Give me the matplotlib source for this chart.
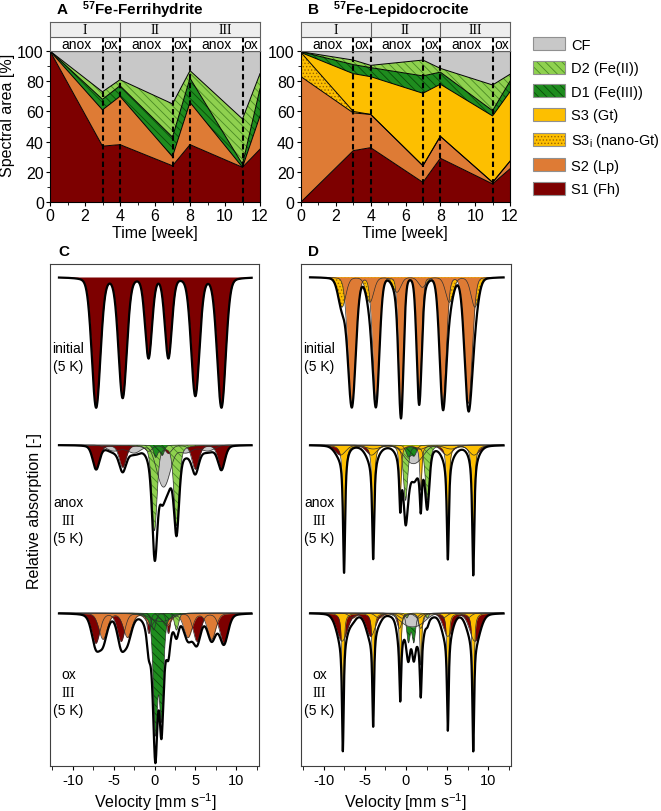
import numpy as np
import matplotlib
matplotlib.use("Agg")
import matplotlib.pyplot as plt
from matplotlib.patches import Patch
from matplotlib.legend_handler import HandlerTuple
from matplotlib.ticker import MultipleLocator

plt.rcParams['font.family'] = ['Liberation Sans', 'DejaVu Sans']
plt.rcParams['mathtext.fontset'] = 'custom'
plt.rcParams['mathtext.rm'] = 'Liberation Sans'
plt.rcParams['mathtext.bf'] = 'Liberation Sans:bold'
plt.rcParams['axes.unicode_minus'] = False
plt.rcParams['hatch.linewidth'] = 0.6

# ---- A / B: spectral areas [%] vs time
weeks = [0, 3, 4, 7, 8, 11, 12]
fh_S1 = [100, 37, 38, 24, 38, 23, 35]
fh_S2 = [0, 24, 32, 6, 28, 0, 22]
fh_D1 = [0, 7, 7, 13, 16, 2, 18]
fh_D2 = [0, 5, 4, 22, 5, 30, 10]
fh_CF = [0, 27, 19, 35, 13, 45, 15]

lp_S1 = [0, 34, 36, 13, 29, 12, 22]
lp_S2 = [83, 25, 22, 11, 14.5, 1, 5]
lp_S3i = [16, 1, 0, 0, 0, 0, 0]
lp_S3 = [0, 25, 25, 48, 34.5, 44, 46]
lp_D1 = [0.5, 6, 6, 11.5, 8, 3.5, 7]
lp_D2 = [0, 3, 1.5, 10.5, 2.5, 17, 4.6]
lp_CF = [0.5, 6, 9.5, 6, 11.5, 22.5, 15.4]

phase_edges = [0, 4, 8, 12]
phase_names = ['I', 'II', 'III']
regimes = [('anox', 0, 3), ('ox', 3, 4), ('anox', 4, 7), ('ox', 7, 8), ('anox', 8, 11), ('ox', 11, 12)]
switch_weeks = [3, 4, 7, 8, 11]

# ---- C / D: Mossbauer fit components (line positions mm/s, depths, FWHM, lorentz fraction)
fh0_S1 = ([-7.15, -3.9, -0.73, 1.7, 5.0, 8.2], [1.30, 1.20, 0.80, 0.80, 1.18, 1.30], [1.25, 1.2, 1.0, 1.0, 1.2, 1.25], 0.15)

fh3a_CF = ([-5.0, -2.5, 0.7, 1.5, 3.8, 6.5], [0.06, 0.08, 0.25, 0.25, 0.08, 0.06], [2.0, 2.0, 1.6, 1.6, 2.0, 2.0], 0.0)
fh3a_S1 = ([-7.15, -3.9, -0.73, 1.7, 5.0, 8.2], [0.24, 0.22, 0.06, 0.08, 0.24, 0.24], 1.0, 0.3)
fh3a_D2 = ([0.0, 2.7], [0.85, 0.80], 0.75, 0.4)
fh3a_D1 = ([0.15, 0.95], [0.12, 0.10], 0.6, 0.3)

fh3o_CF = ([0.2, 1.4], [0.05, 0.05], 2.5, 0.0)
fh3o_S1 = ([-7.2, -4.1, -0.7, 1.7, 5.2, 8.5], [0.30, 0.28, 0.20, 0.20, 0.28, 0.30], [1.2, 1.1, 0.5, 0.5, 1.1, 1.2], 0.3)
fh3o_S2 = ([-6.3, -3.3, -0.5, 1.5, 4.1, 7.0], [0.26, 0.24, 0.12, 0.12, 0.24, 0.26], 1.2, 0.3)
fh3o_D2 = ([-0.1, 2.7], [0.17, 0.17], 0.6, 0.3)
fh3o_D1 = ([0.12, 0.85], [1.15, 1.0], 0.6, 0.5)

lp0_S3i = ([-7.8, -4.4, -1.1, 2.0, 5.3, 8.4], [0.30, 0.25, 0.15, 0.10, 0.25, 0.30], 1.1, 0.2)
lp0_S2 = ([-6.6, -3.65, -0.6, 1.6, 4.5, 7.6], [1.28, 1.22, 1.32, 1.20, 1.26, 1.26], [1.1, 0.95, 0.7, 0.7, 0.95, 1.1], 0.08)

lp3a_CF = ([-4.0, 0.3, 1.5, 5.5], [0.04, 0.12, 0.12, 0.04], 2.0, 0.0)
lp3a_S1 = ([-8.0, -4.2, -0.6, 1.7, 5.0, 8.3], [0.10, 0.10, 0.04, 0.04, 0.10, 0.10], 1.5, 0.2)
lp3a_D2 = ([-0.05, 2.6], [0.55, 0.55], 0.6, 0.5)
lp3a_D1 = ([0.3, 1.0], [0.11, 0.10], 0.7, 0.3)
lp3a_S3 = ([-7.55, -4.0, -0.7, 1.8, 5.1, 8.2], [1.20, 1.00, 0.50, 0.45, 1.00, 1.20], 0.3, 0.85)

lp3o_S2 = ([-6.5, -3.3, -0.5, 1.5, 4.5, 7.5], [0.05, 0.05, 0.05, 0.05, 0.05, 0.05], 1.0, 0.3)
lp3o_S1 = ([-7.8, -4.3, -0.8, 1.8, 5.1, 8.4], [0.28, 0.23, 0.15, 0.15, 0.23, 0.28], [1.5, 1.3, 0.7, 0.7, 1.3, 1.5], 0.2)
lp3o_D1 = ([0.3, 0.95], [0.28, 0.28], 0.5, 0.5)
lp3o_CF = ([0.0, 1.6], [0.10, 0.10], 2.2, 0.0)
lp3o_D2 = ([0.1, 2.6], [0.05, 0.05], 0.4, 0.5)
lp3o_S3 = ([-7.7, -4.0, -0.7, 1.8, 5.1, 8.2], [1.10, 0.92, 0.60, 0.52, 0.92, 1.10], 0.25, 0.8)

baselines = [0.0, -1.68, -3.36]
velocity = np.linspace(-11.7, 11.9, 1500)

# name: (face, hatch, hatch colour)
style = {
    'CF': ('#c8c8c8', None, '#c8c8c8'),
    'D2': ('#8fd14f', '\\\\\\\\', '#4a8a25'),
    'D1': ('#1e8c1e', '\\\\\\\\', '#0a4a0a'),
    'S3': ('#fdbf00', None, '#fdbf00'),
    'S3i': ('#fdbf00', '.....', '#9a6400'),
    'S2': ('#de7b35', None, '#de7b35'),
    'S1': ('#7d0000', None, '#7d0000'),
}

W, H = 661, 812


def box(l, t, r, b):
    return [l / W, 1 - b / H, (r - l) / W, (b - t) / H]


fig = plt.figure(figsize=(W / 100, H / 100), dpi=100)


def area_panel(ax, hdr, layers):
    vals = [v for _, v in layers]
    polys = ax.stackplot(weeks, *vals, colors=[style[n][0] for n, _ in layers], linewidth=0)
    for poly, (name, _) in zip(polys, layers):
        fc, hatch, hc = style[name]
        if hatch:
            poly.set_hatch(hatch)
            poly.set_edgecolor(hc)
    for c in np.cumsum(vals, axis=0)[:-1]:
        ax.plot(weeks, c, color='k', lw=0.7)
    for w in switch_weeks:
        ax.axvline(w, color='k', ls=(0, (2.6, 1.6)), lw=1.5)
        hdr.plot([w, w], [0, 1], color='k', ls=(0, (2.6, 1.6)), lw=1.5)
    ax.set_xlim(0, 12)
    ax.set_ylim(0, 100)
    ax.xaxis.set_major_locator(MultipleLocator(2))
    ax.xaxis.set_minor_locator(MultipleLocator(1))
    ax.yaxis.set_major_locator(MultipleLocator(20))
    ax.yaxis.set_minor_locator(MultipleLocator(10))
    ax.tick_params(labelsize=11.5, length=3, pad=1.5)
    ax.tick_params(which='minor', length=2)
    # header rows
    hdr.set_xlim(0, 12)
    hdr.set_ylim(0, 2)
    hdr.axhspan(1, 2, color='#eeeeee')
    hdr.axhline(1, color='#606060', lw=0.8)
    for e in phase_edges[1:-1]:
        hdr.plot([e, e], [1, 2], color='#606060', lw=0.8)
    for name, a, b in zip(phase_names, phase_edges[:-1], phase_edges[1:]):
        hdr.text((a + b) / 2, 1.5, name, ha='center', va='center', fontsize=10,
                 family='Liberation Serif')
    for name, a, b in regimes:
        hdr.text((a + b) / 2, 0.5, name, ha='center', va='center', fontsize=10)
    hdr.set_xticks([])
    hdr.set_yticks([])
    for s in hdr.spines.values():
        s.set_color('#606060')
        s.set_linewidth(0.8)


axA = fig.add_axes(box(50, 52, 260, 203))
hdrA = fig.add_axes(box(50, 23, 260, 52))
area_panel(axA, hdrA, [('S1', fh_S1), ('S2', fh_S2), ('D1', fh_D1), ('D2', fh_D2), ('CF', fh_CF)])

axB = fig.add_axes(box(301, 52, 510, 203))
hdrB = fig.add_axes(box(301, 23, 510, 52))
area_panel(axB, hdrB, [('S1', lp_S1), ('S2', lp_S2), ('S3i', lp_S3i), ('S3', lp_S3),
                       ('D1', lp_D1), ('D2', lp_D2), ('CF', lp_CF)])

fig.text(57 / W, 1 - 10 / H, 'A', fontsize=11, weight='bold', va='center')
fig.text(143 / W, 1 - 10 / H, r'$\mathbf{^{57}}$Fe-Ferrihydrite', fontsize=11, weight='bold', ha='center', va='center')
fig.text(308 / W, 1 - 10 / H, 'B', fontsize=11, weight='bold', va='center')
fig.text(401 / W, 1 - 10 / H, r'$\mathbf{^{57}}$Fe-Lepidocrocite', fontsize=11, weight='bold', ha='center', va='center')
fig.text(8 / W, 1 - 115 / H, 'Spectral area [%]', fontsize=11.5, rotation=90, ha='center', va='center')
fig.text(155 / W, 1 - 234 / H, 'Time [week]', fontsize=11.5, ha='center', va='center')
fig.text(405 / W, 1 - 234 / H, 'Time [week]', fontsize=11.5, ha='center', va='center')

# legend
legend_items = [('CF', 'CF'), ('D2', 'D2 (Fe(II))'), ('D1', 'D1 (Fe(III))'), ('S3', 'S3 (Gt)'),
                ('S3i', r'S3$_\mathrm{i}$ (nano-Gt)'), ('S2', 'S2 (Lp)'), ('S1', 'S1 (Fh)')]
handles = []
for name, _ in legend_items:
    fc, hatch, hc = style[name]
    handles.append((Patch(facecolor=fc, edgecolor=hc, hatch=hatch, linewidth=0),
                    Patch(fill=False, edgecolor='#909090', linewidth=0.8)))
fig.legend(handles, [lab for _, lab in legend_items], loc='upper left',
           bbox_to_anchor=(533 / W, 1 - 38 / H), frameon=False, fontsize=10.5,
           handlelength=2.2, handleheight=1.0, labelspacing=0.62, handletextpad=0.4,
           borderpad=0, borderaxespad=0, handler_map={tuple: HandlerTuple(ndivide=1)})


# ---- spectra
def sextet(v, comp):
    pos, depth, width, eta = comp
    width = np.broadcast_to(width, len(pos))
    out = np.zeros_like(v)
    for p, d, w in zip(pos, depth, width):
        x = (v - p) / (w / 2)
        out += d * (eta / (1 + x ** 2) + (1 - eta) * np.exp(-np.log(2) * x ** 2))
    return out


def draw_spectrum(ax, base, comps):
    total = np.zeros_like(velocity)
    for name, comp in comps:
        y = sextet(velocity, comp)
        total += y
        fc, hatch, hc = style[name]
        ax.fill_between(velocity, base, base - y, facecolor=fc, edgecolor=hc, hatch=hatch, linewidth=0)
        ax.plot(velocity, base - y, color='#303030', lw=0.5)
    ax.plot(velocity, base - total, color='k', lw=1.6)


def spectra_panel(ax, spectra, labels):
    for base, comps in zip(baselines, spectra):
        draw_spectrum(ax, base, comps)
    ax.set_xlim(-12.8, 12.8)
    ax.set_ylim(-4.89, 0.13)
    ax.set_yticks([])
    ax.xaxis.set_major_locator(MultipleLocator(5))
    ax.xaxis.set_minor_locator(MultipleLocator(2.5))
    ax.tick_params(labelsize=10.5, length=3, pad=2)
    ax.tick_params(which='minor', length=3)
    for s in ax.spines.values():
        s.set_color('#404040')
    for lines, y0 in labels:
        for i, txt in enumerate(lines):
            fam = 'Liberation Serif' if txt == 'III' else None
            ax.text(0.088, y0 - i * 0.036, txt, transform=ax.transAxes, ha='center',
                    va='center', fontsize=10, family=fam)


axC = fig.add_axes(box(50, 265, 259, 767))
spectra_panel(axC,
              [[('S1', fh0_S1)],
               [('CF', fh3a_CF), ('S1', fh3a_S1), ('D2', fh3a_D2), ('D1', fh3a_D1)],
               [('CF', fh3o_CF), ('S1', fh3o_S1), ('S2', fh3o_S2), ('D2', fh3o_D2), ('D1', fh3o_D1)]],
              [(['initial', '(5 K)'], 0.833), (['anox', 'III', '(5 K)'], 0.526),
               (['ox', 'III', '(5 K)'], 0.183)])

axD = fig.add_axes(box(301, 265, 511, 767))
spectra_panel(axD,
              [[('S3i', lp0_S3i), ('S2', lp0_S2)],
               [('CF', lp3a_CF), ('S1', lp3a_S1), ('D2', lp3a_D2), ('D1', lp3a_D1), ('S3', lp3a_S3)],
               [('S2', lp3o_S2), ('S1', lp3o_S1), ('D1', lp3o_D1), ('CF', lp3o_CF), ('D2', lp3o_D2),
                ('S3', lp3o_S3)]],
              [(['initial', '(5 K)'], 0.833), (['anox', 'III', '(5 K)'], 0.526),
               (['ox', 'III', '(5 K)'], 0.183)])

fig.text(58 / W, 1 - 252 / H, 'C', fontsize=11, weight='bold', va='center')
fig.text(308 / W, 1 - 252 / H, 'D', fontsize=11, weight='bold', va='center')
fig.text(35 / W, 1 - 511 / H, 'Relative absorption [-]', fontsize=11.5, rotation=90, ha='center', va='center')
fig.text(155 / W, 1 - 802 / H, r'Velocity [mm s$^{-1}$]', fontsize=11.5, ha='center', va='center')
fig.text(405 / W, 1 - 802 / H, r'Velocity [mm s$^{-1}$]', fontsize=11.5, ha='center', va='center')

fig.savefig('out.png', dpi=100)
